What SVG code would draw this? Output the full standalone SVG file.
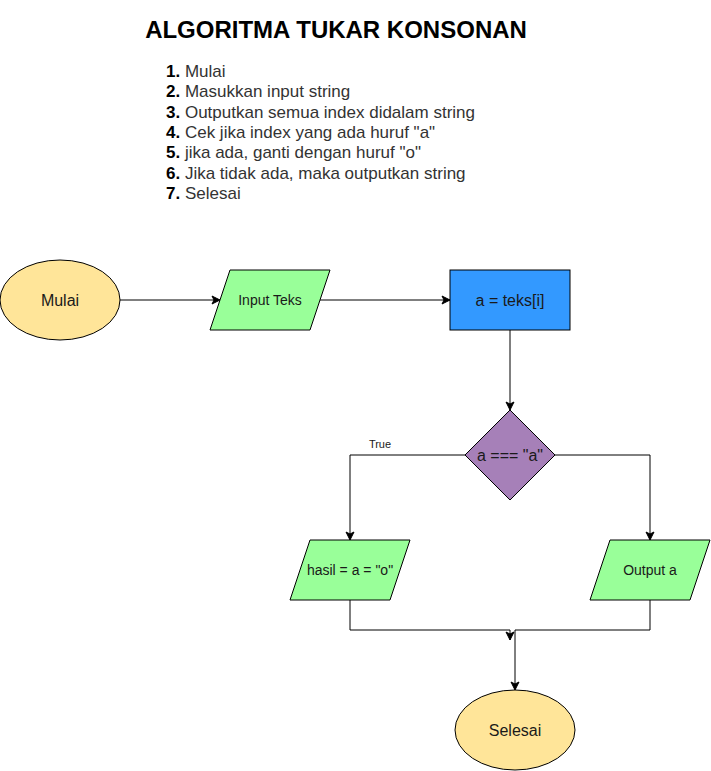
<svg xmlns="http://www.w3.org/2000/svg" width="711" height="771" viewBox="0 0 711 771">
<style>
  .node { stroke: #000; stroke-width: 1; }
  .term { fill: #FFE599; }
  .io { fill: #99FF99; }
  .proc { fill: #3399FF; }
  .dec { fill: #A680B8; }
  .lbl { font-family: "Liberation Sans", Arial, sans-serif; fill: #1a1a1a; text-anchor: middle; }
  .edge { fill: none; stroke: #000; stroke-width: 1; }
  .list { font-family: "Liberation Sans", Arial, sans-serif; font-size: 17px; fill: #333; }
  .list tspan.n { font-weight: bold; fill: #000; }
</style>
<defs>
  <marker id="arr" markerUnits="userSpaceOnUse" markerWidth="10" markerHeight="10" viewBox="0 0 10 10" refX="9" refY="5" orient="auto">
    <path d="M1,1 L9,5 L1,9 L3,5 Z" fill="#000" stroke="#000" stroke-width="1"/>
  </marker>
</defs>
<rect width="711" height="771" fill="#fff"/>

<g id="title">
  <text x="336" y="38" font-family="Liberation Sans, Arial, sans-serif" font-size="24" font-weight="bold" text-anchor="middle" fill="#000">ALGORITMA TUKAR KONSONAN</text>
</g>
<g id="steps" class="list">
  <text x="166" y="77"><tspan class="n">1.</tspan> Mulai</text>
  <text x="166" y="97.3"><tspan class="n">2.</tspan> Masukkan input string</text>
  <text x="166" y="117.6"><tspan class="n">3.</tspan> Outputkan semua index didalam string</text>
  <text x="166" y="137.9"><tspan class="n">4.</tspan> Cek jika index yang ada huruf "a"</text>
  <text x="166" y="158.2"><tspan class="n">5.</tspan> jika ada, ganti dengan huruf "o"</text>
  <text x="166" y="178.5"><tspan class="n">6.</tspan> Jika tidak ada, maka outputkan string</text>
  <text x="166" y="198.8"><tspan class="n">7.</tspan> Selesai</text>
</g>

<g id="connectors">
  <path class="edge" d="M120,300 H220" marker-end="url(#arr)"/>
  <path class="edge" d="M320,300 H450" marker-end="url(#arr)"/>
  <path class="edge" d="M510,330 V410" marker-end="url(#arr)"/>
  <path class="edge" d="M465,455 H350 V540" marker-end="url(#arr)"/>
  <path class="edge" d="M555,455 H650 V540" marker-end="url(#arr)"/>
  <path class="edge" d="M350,600 V630 H510 V640" marker-end="url(#arr)"/>
  <path class="edge" d="M650,600 V630 H515 V690" marker-end="url(#arr)"/>
  <text class="lbl" x="380" y="448" font-size="11">True</text>
</g>

<g id="mulai">
  <ellipse class="node term" cx="60" cy="300" rx="60" ry="40"/>
  <text class="lbl" x="60" y="306" font-size="16">Mulai</text>
</g>
<g id="input-teks">
  <polygon class="node io" points="230,270 330,270 310,330 210,330"/>
  <text class="lbl" x="270" y="305" font-size="14">Input Teks</text>
</g>
<g id="assign">
  <rect class="node proc" x="450" y="270" width="120" height="60"/>
  <text class="lbl" x="510" y="306" font-size="16">a = teks[i]</text>
</g>
<g id="decision">
  <polygon class="node dec" points="510,410 555,455 510,500 465,455"/>
  <text class="lbl" x="510" y="461" font-size="16">a === "a"</text>
</g>
<g id="hasil">
  <polygon class="node io" points="310,540 410,540 390,600 290,600"/>
  <text class="lbl" x="350" y="575" font-size="14">hasil = a = "o"</text>
</g>
<g id="output-a">
  <polygon class="node io" points="610,540 710,540 690,600 590,600"/>
  <text class="lbl" x="650" y="575" font-size="14">Output a</text>
</g>
<g id="selesai">
  <ellipse class="node term" cx="515" cy="730" rx="60" ry="40"/>
  <text class="lbl" x="515" y="736" font-size="16">Selesai</text>
</g>
</svg>
